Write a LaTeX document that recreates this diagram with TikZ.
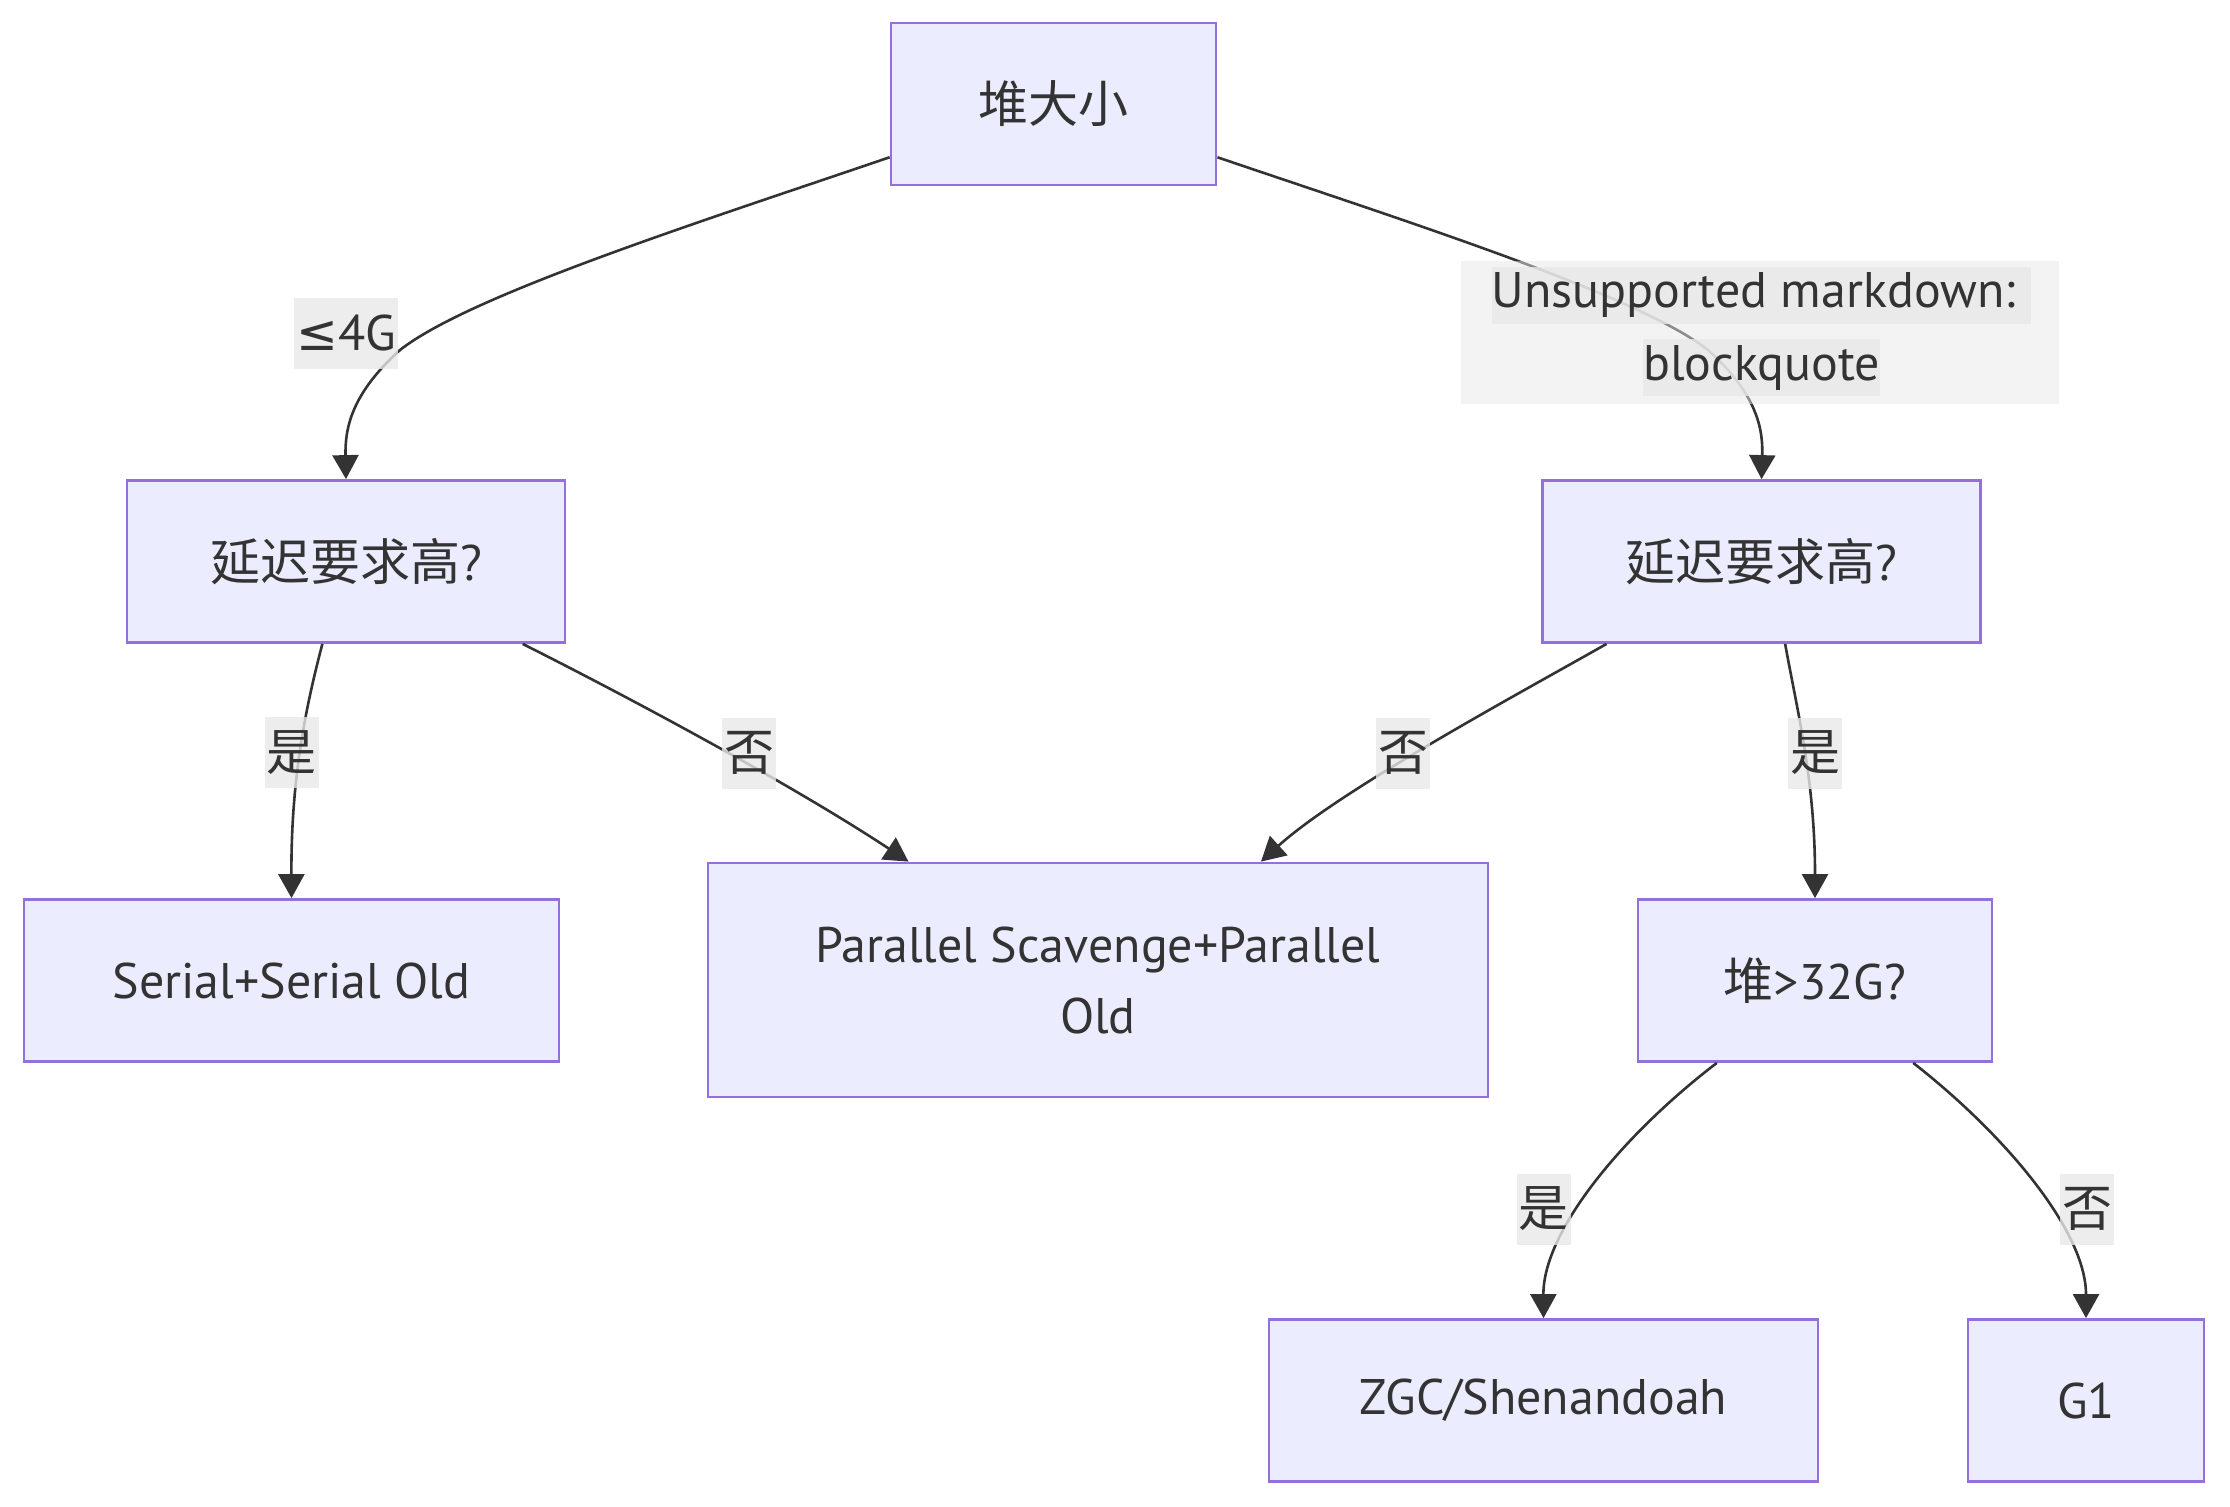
\documentclass[tikz,border=0pt]{standalone}
\usepackage{fontspec}
\setmainfont{PT Sans}
\newfontfamily\cjk{Noto Sans CJK SC}
\newfontfamily\relfont{DejaVu Sans}
\usetikzlibrary{arrows.meta,positioning,calc}
\definecolor{boxfill}{HTML}{ECECFF}
\definecolor{boxline}{HTML}{9370DB}
\definecolor{inkgray}{HTML}{333333}
\definecolor{lblfill}{HTML}{E8E8E8}
\tikzset{
	gcbox/.style={draw=boxline,fill=boxfill,line width=1.4pt,text=inkgray,minimum height=81pt,inner sep=0pt,align=center,font=\fontsize{25}{35.5}\selectfont},
	edgelbl/.style={fill=lblfill,fill opacity=0.8,text opacity=1,text=inkgray,inner xsep=1pt,inner ysep=0pt,minimum height=35.5pt,font=\fontsize{25}{35.5}\selectfont},
	flow/.style={draw=inkgray,line width=1.3pt,-{Triangle[length=12pt,width=13pt]}},
}

\begin{document}
\begin{tikzpicture}[x=0.5pt,y=-0.5pt]
	\useasboundingbox (0,0) rectangle (2230,1506);
	\node[gcbox,minimum width=162.5pt] (heap) at (1053.5,104) {{\cjk 堆大小}};
	\node[gcbox,minimum width=219pt] (latL) at (346,561.5) {{\cjk 延迟要求高}?};
	\node[gcbox,minimum width=219pt] (latR) at (1761.5,561.5) {{\cjk 延迟要求高}?};
	\node[gcbox,minimum width=267.5pt] (serial) at (291.5,980.5) {Serial+Serial Old};
	\node[gcbox,minimum width=390pt,minimum height=117pt] (parallel) at (1098,980) {Parallel Scavenge+Parallel\\Old};
	\node[gcbox,minimum width=177pt] (big) at (1815,980.5) {{\cjk 堆}>32G?};
	\node[gcbox,minimum width=274.5pt] (zgc) at (1543.5,1400.5) {ZGC/Shenandoah};
	\node[gcbox,minimum width=118pt] (gone) at (2086,1400.5) {G1};

	\draw[flow] (heap.198) .. controls (700,222) and (470,295) .. (400,350) .. controls (350,395) and (345,430) .. (latL.north);
	\draw[flow] (heap.-18) .. controls (1408,222) and (1638,295) .. (1708,350) .. controls (1758,395) and (1763,430) .. (latR.north);
	\draw[flow] (latL.-106) .. controls (305,710) and (291,780) .. (serial.north);
	\draw[flow] (latL.-25.5) .. controls (650,708) and (800,790) .. (parallel.148);
	\draw[flow] (latR.-152) .. controls (1520,693) and (1340,790) .. (parallel.36.5);
	\draw[flow] (latR.-74) .. controls (1797,710) and (1815,780) .. (big.north);
	\draw[flow] (big.-140) .. controls (1625,1133) and (1543,1230) .. (zgc.north);
	\draw[flow] (big.-40) .. controls (2003,1133) and (2086,1230) .. (gone.north);

	\node[edgelbl] (lsmall) at (346,333) {{\relfont ≤}4G};
	\node[fill=lblfill,fill opacity=0.5,minimum width=299pt,minimum height=71.5pt] (lquote) at (1760,332.5) {};
	\node[edgelbl,minimum height=28.5pt,inner xsep=0pt] (lquoteA) at (1761,295) {Unsupported markdown:\kern0.3em};
	\node[edgelbl,minimum height=28.5pt,inner xsep=0pt] (lquoteB) at (1761.5,367.5) {blockquote};
	\node[edgelbl] (lyesL) at (291.5,752.5) {{\cjk 是}};
	\node[edgelbl] (lnoL) at (749,753) {{\cjk 否}};
	\node[edgelbl] (lnoR) at (1403,753) {{\cjk 否}};
	\node[edgelbl] (lyesR) at (1815,753) {{\cjk 是}};
	\node[edgelbl] (lyesB) at (1543.5,1209) {{\cjk 是}};
	\node[edgelbl] (lnoB) at (2087,1209) {{\cjk 否}};
\end{tikzpicture}
\end{document}
